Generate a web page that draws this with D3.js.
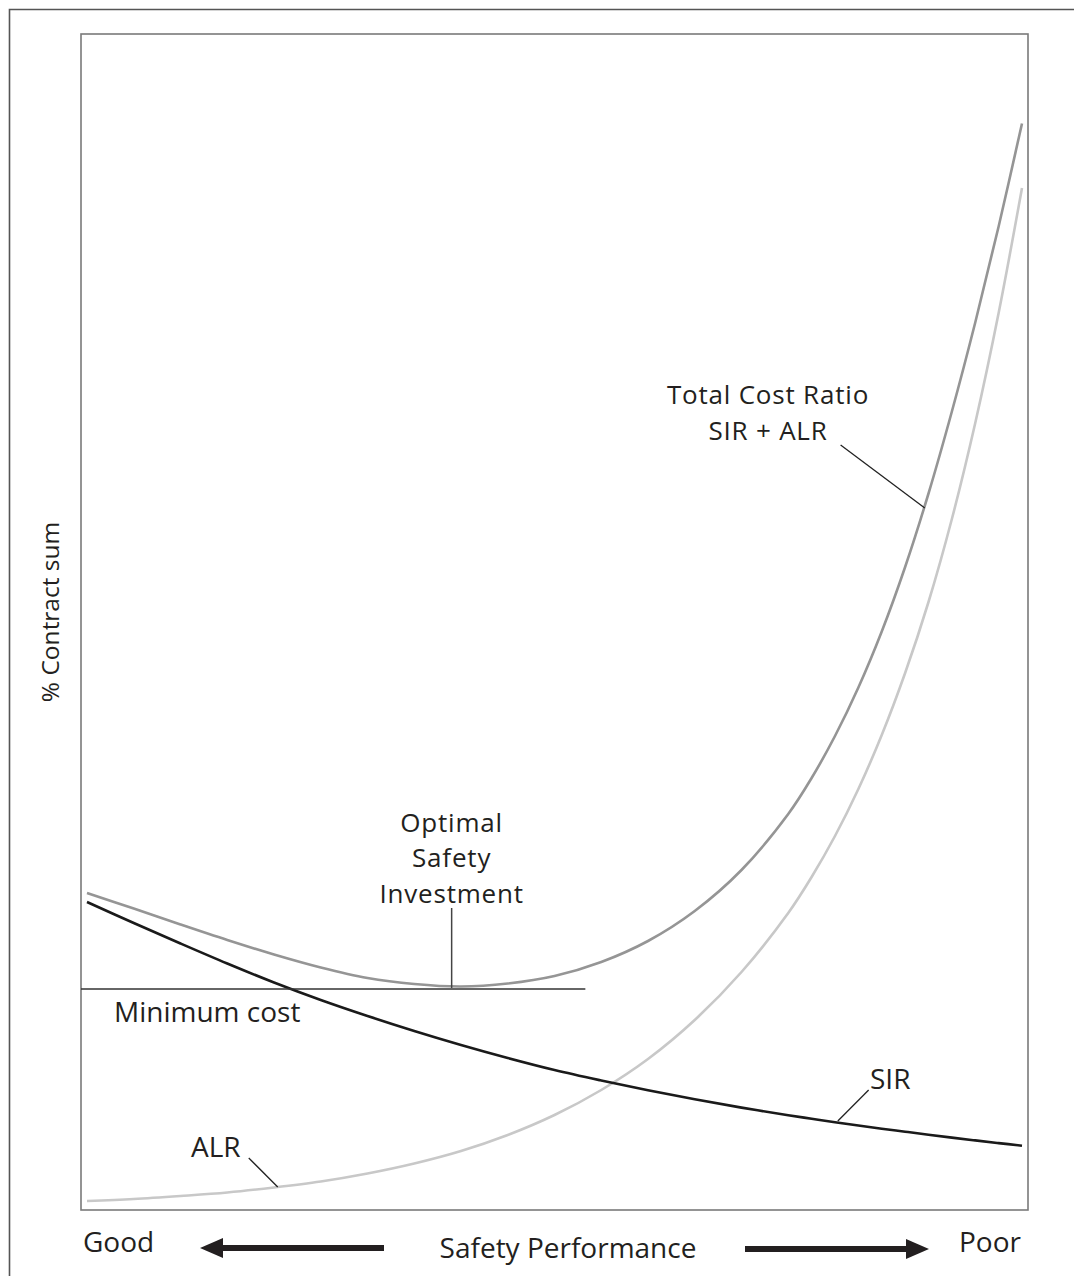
<!DOCTYPE html>
<html><head><meta charset="utf-8">
<script src="https://cdn.jsdelivr.net/npm/d3@7"></script>
<style>
body{margin:0;background:#fff}
svg{display:block}
text{font-family:"Open Sans",sans-serif;fill:#231f20;font-size:28px}
text.multi{font-size:26px;letter-spacing:0.8px}
</style>
</head><body>
<svg id="chart" width="1074" height="1276"></svg>
<script>
// Safety performance (0 = good, 100 = poor)
const performance = [0,5,10,15,20,25,30,35,40,45,50,55,60,65,70,75,77.5,80,82.5,85,87.5,90,92.5,95,97.5,100];
// Safety Investment Ratio
const sirValues   = [308,287,266.5,246.5,227.5,210,194,179,165,152,140,129.5,119.7,110.7,102.4,94.8,91.3,87.8,84.5,81.3,78.3,75.3,72.4,69.6,66.9,64.3];
// Accident Loss Ratio
const alrValues   = [9,11,14,17.5,22.5,28.5,36.5,46.5,59,75,95,120,151,190,238,297,333,374,421,475,537,608,691,787,897,1022];
// Total Cost Ratio (SIR + ALR)
const totalValues = [317,301.5,285.5,270,255.5,242.5,232,226,223.5,226.5,234,248,269,299,340,396,432,474,522.5,578.5,643,716.5,798.5,887.5,983.5,1086.5];

const minimumCost = 221;           // level of the minimum cost line
const optimalPoint = {p: 39, v: 222};
const minLineRange = [-0.64, 53.3];

const annotations = [
  {name:"total", anchor:{p:89.6, v:702}, from:{p:80.6, v:765}},
  {name:"sir",   anchor:{p:80.3, v:89},  from:{p:83.6, v:120}},
  {name:"alr",   anchor:{p:20.4, v:23},  from:{p:17.3, v:52}}
];

const svg = d3.select("#chart");
const box = {left:81, right:1028, top:34, bottom:1210};
const x = d3.scaleLinear().domain([0,100]).range([87,1022]);
const y = d3.scaleLinear().domain([0,1176]).range([box.bottom, box.top]);

// outer frame (top and left)
svg.append("path").attr("d","M9.5,1276 V9.5 H1074").attr("fill","none").attr("stroke","#555").attr("stroke-width",1.6);
// plot box
svg.append("rect").attr("x",box.left).attr("y",box.top).attr("width",box.right-box.left).attr("height",box.bottom-box.top)
  .attr("fill","none").attr("stroke","#7a7a7a").attr("stroke-width",1.6);

const line = d3.line().curve(d3.curveCatmullRom.alpha(0.5)).x((d,i)=>x(performance[i])).y(d=>y(d));

svg.append("path").datum(alrValues).attr("d",line).attr("fill","none").attr("stroke","#c8c8c8").attr("stroke-width",2.6);
svg.append("path").datum(totalValues).attr("d",line).attr("fill","none").attr("stroke","#959595").attr("stroke-width",2.6);
svg.append("path").datum(sirValues).attr("d",line).attr("fill","none").attr("stroke","#1a1a1a").attr("stroke-width",2.6);

// minimum cost line
svg.append("line").attr("x1",x(minLineRange[0])).attr("x2",x(minLineRange[1]))
  .attr("y1",y(minimumCost)).attr("y2",y(minimumCost)).attr("stroke","#333").attr("stroke-width",1.5);
svg.append("text").attr("x",x(minLineRange[0])+33).attr("y",y(minimumCost)+33).text("Minimum cost");

// optimal safety investment
svg.append("line").attr("x1",x(optimalPoint.p)).attr("x2",x(optimalPoint.p))
  .attr("y1",y(optimalPoint.v)).attr("y2",y(optimalPoint.v)-80).attr("stroke","#444").attr("stroke-width",1.5);
["Optimal","Safety","Investment"].forEach((t,i)=>{
  svg.append("text").attr("class","multi").attr("text-anchor","middle")
    .attr("x",x(optimalPoint.p)).attr("y",y(optimalPoint.v)-154+(i-1)*35.5+33).text(t);
});

// curve annotations
annotations.forEach(a=>{
  svg.append("line").attr("x1",x(a.from.p)).attr("y1",y(a.from.v)).attr("x2",x(a.anchor.p)).attr("y2",y(a.anchor.v))
    .attr("stroke","#222").attr("stroke-width",1.3);
});
svg.append("text").attr("class","multi").attr("text-anchor","middle").attr("x",768).attr("y",404.2).text("Total Cost Ratio");
svg.append("text").attr("class","multi").attr("text-anchor","middle").attr("x",768).attr("y",439.8).text("SIR + ALR");
svg.append("text").attr("x",870).attr("y",1089).text("SIR");
svg.append("text").attr("x",191).attr("y",1157).text("ALR");

// y-axis title
svg.append("text").attr("transform","translate(59,612) rotate(-90)").attr("text-anchor","middle")
  .style("font-size","24.5px").text("% Contract sum");

// x-axis labels and arrows
svg.append("text").attr("x",83).attr("y",1252).text("Good");
svg.append("text").attr("x",1021).attr("y",1252).attr("text-anchor","end").text("Poor");
svg.append("text").attr("x",568).attr("y",1258).attr("text-anchor","middle").text("Safety Performance");

svg.append("line").attr("x1",384).attr("x2",218).attr("y1",1248).attr("y2",1248).attr("stroke","#231f20").attr("stroke-width",6);
svg.append("path").attr("d","M200,1248 L223,1238 L223,1258 Z").attr("fill","#231f20");
svg.append("line").attr("x1",745).attr("x2",910).attr("y1",1249).attr("y2",1249).attr("stroke","#231f20").attr("stroke-width",6);
svg.append("path").attr("d","M929,1249 L906,1239 L906,1259 Z").attr("fill","#231f20");
</script>
</body></html>
